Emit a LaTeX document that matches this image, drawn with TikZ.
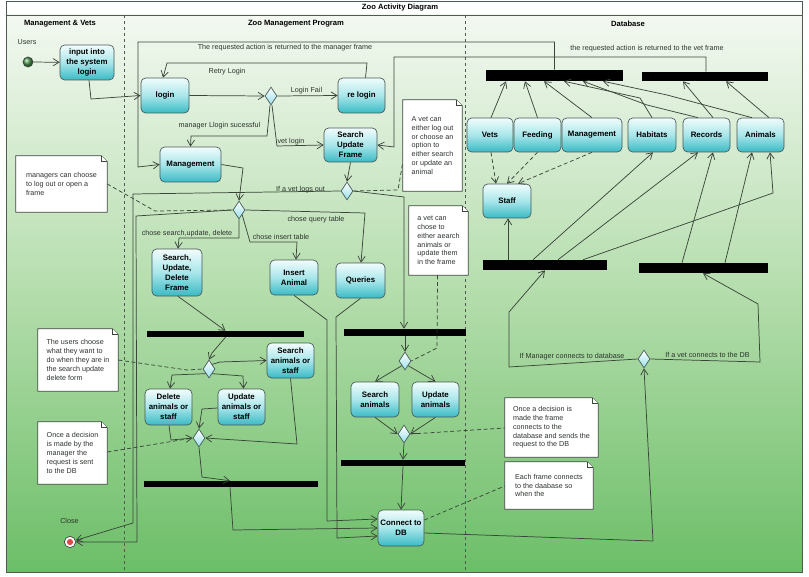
\documentclass[tikz,border=0pt]{standalone}
\usepackage{fontspec}
\setmainfont{Liberation Sans}
\usetikzlibrary{arrows.meta,shapes.geometric,calc}

\pgfdeclarelayer{back}
\pgfdeclarelayer{notes}
\pgfsetlayers{back,notes,main}

\definecolor{ink}{RGB}{58,70,58}
\definecolor{nodeedge}{RGB}{70,88,88}
\definecolor{nodetop}{RGB}{242,252,252}
\definecolor{nodemid}{RGB}{168,230,234}
\definecolor{nodebot}{RGB}{58,186,196}
\definecolor{decbot}{RGB}{150,224,234}
\definecolor{bgtop}{RGB}{243,248,241}
\definecolor{bgmid}{RGB}{180,221,172}
\definecolor{bgbot}{RGB}{108,190,104}
\definecolor{labelgrey}{RGB}{45,52,45}
\definecolor{framegrey}{RGB}{80,90,80}
\definecolor{initgreen}{RGB}{80,150,80}
\definecolor{finalred}{RGB}{222,72,72}

\newcommand{\lblfont}{\fontsize{5.4}{6.6}\selectfont}
\newcommand{\actfont}{\fontsize{5.9}{7.5}\selectfont\bfseries}

% UML note: white sheet with a folded top-right corner, drawn behind the text
\newcommand{\foldnote}[1]{%
  \begin{pgfonlayer}{notes}
    \filldraw[notesheet] (#1.north west) -- ($(#1.north east)+(-6,0)$) -- ($(#1.north east)+(0,6)$)
      -- (#1.south east) -- (#1.south west) -- cycle;
    \draw[notesheet] ($(#1.north east)+(-6,0)$) -- ($(#1.north east)+(-6,6)$) -- ($(#1.north east)+(0,6)$);
  \end{pgfonlayer}}

\begin{document}
\begin{tikzpicture}[x=0.75pt,y=-0.75pt,
  wh/.style 2 args={minimum width=#1*0.75pt, minimum height=#2*0.75pt},
  act/.style={rectangle, rounded corners=3.5pt, draw=nodeedge, line width=0.5pt,
    top color=nodetop, bottom color=nodebot, middle color=nodemid,
    font=\actfont, align=center, inner sep=0pt},
  bar/.style={rectangle, fill=black, draw=none, inner sep=0pt},
  decision/.style={diamond, draw=nodeedge, line width=0.5pt, top color=white, bottom color=decbot,
    inner sep=0pt, minimum width=9pt, minimum height=13.5pt},
  initialnode/.style={circle, draw=ink, line width=0.5pt, inner sep=0pt, minimum size=7.5pt,
    shading=ball, ball color=initgreen},
  finalnode/.style={circle, draw=ink, line width=0.5pt, fill=white, inner sep=0pt, minimum size=8.5pt,
    path picture={\fill[finalred] (path picture bounding box.center) circle (2.3pt);}},
  flow/.style={draw=ink, line width=0.55pt, -{Straight Barb[length=4.5pt,width=5.5pt]}},
  flowdash/.style={flow, dash pattern=on 3pt off 2pt},
  noteline/.style={draw=ink, line width=0.55pt, dash pattern=on 3pt off 2pt},
  lanedash/.style={draw=framegrey, line width=0.5pt, dash pattern=on 2.5pt off 2pt},
  lbl/.style={font=\lblfont, text=labelgrey, inner sep=0pt},
  notetext/.style={font=\lblfont, text=labelgrey, align=left, inner sep=0pt},
  notesheet/.style={fill=white, draw=ink, line width=0.5pt},
  heading/.style={font=\fontsize{5.7}{7}\selectfont\bfseries, inner sep=0pt}]

\useasboundingbox (0,0) rectangle (809,577);

% frame, gradient and swimlanes
\begin{pgfonlayer}{back}
  \fill[white] (0,0) rectangle (809,577);
  \shade[top color=bgtop, bottom color=bgbot, middle color=bgmid] (6,15) rectangle (802,572);
  \draw[framegrey, line width=0.6pt] (6,1) rectangle (802,572);
  \draw[framegrey, line width=0.6pt] (6,15) -- (802,15);
  \draw[lanedash] (124,15) -- (124,572);
  \draw[lanedash] (465,15) -- (465,572);
\end{pgfonlayer}

\node[heading] (title) at (400,8) {Zoo Activity Diagram};
\node[heading] (laneA) at (60,24) {Management \& Vets};
\node[heading] (laneB) at (296,24) {Zoo Management Program};
\node[heading] (laneC) at (628,24) {Database};

% actions
\node[act, wh={54}{35}] (input) at (87,62.5) {input into\\the system\\login};
\node[act, wh={48}{35}] (login) at (165,95.5) {login};
\node[act, wh={47}{35}] (relogin) at (361.5,95.5) {re login};
\node[act, wh={53}{34}] (suf) at (350.5,145) {Search\\Update\\Frame};
\node[act, wh={61}{35}] (mgmt) at (190.5,164.5) {Management};
\node[act, wh={50}{47}] (sud) at (177,272.5) {Search,\\Update,\\Delete\\Frame};
\node[act, wh={48}{35}] (insert) at (294,277.5) {Insert\\Animal};
\node[act, wh={49}{35}] (queries) at (360.5,280.5) {Queries};
\node[act, wh={47}{35}] (searchAS) at (290.5,360.5) {Search\\animals or\\staff};
\node[act, wh={47}{36}] (deleteAS) at (168.5,407) {Delete\\animals or\\staff};
\node[act, wh={47}{36}] (updateAS) at (241.5,407) {Update\\animals or\\staff};
\node[act, wh={48}{35}] (searchA) at (375,399.5) {Search\\animals};
\node[act, wh={47}{35}] (updateA) at (435.5,399.5) {Update\\animals};
\node[act, wh={46}{36}] (connect) at (401,528) {Connect to\\DB};
\node[act, wh={46}{34}] (vets) at (490,135) {Vets};
\node[act, wh={47}{34}] (feeding) at (537.5,135) {Feeding};
\node[act, wh={60}{34}] (dbmgmt) at (592,135) {Management};
\node[act, wh={48}{34}] (habitats) at (652,135) {Habitats};
\node[act, wh={47}{34}] (records) at (706.5,135) {Records};
\node[act, wh={47}{34}] (animals) at (760.5,135) {Animals};
\node[act, wh={48}{34}] (staff) at (507,201) {Staff};

% fork / join bars
\node[bar, wh={137}{11}] (barA) at (554.5,75.5) {};
\node[bar, wh={126}{9}] (barB) at (705,76.5) {};
\node[bar, wh={124}{10}] (barC) at (545,265) {};
\node[bar, wh={129}{10}] (barD) at (703.5,268) {};
\node[bar, wh={157}{6}] (bar1) at (225.5,334) {};
\node[bar, wh={174}{6}] (bar2) at (231,484) {};
\node[bar, wh={122}{7}] (bar3) at (405,332.5) {};
\node[bar, wh={124}{6}] (bar4) at (403,463) {};

% decisions
\node[decision] (d1) at (271,96) {};
\node[decision] (d2) at (347,191) {};
\node[decision] (d3) at (239,210) {};
\node[decision] (d4) at (209,369) {};
\node[decision] (d5) at (199,438) {};
\node[decision] (d6) at (405,361) {};
\node[decision] (d7) at (404,434) {};
\node[decision] (d8) at (644,359) {};

% start and end
\node[initialnode] (start) at (28,62) {};
\node[finalnode] (stop) at (70,542) {};
\node[lbl] (startlbl) at (27,42.5) {Users};
\node[lbl] (stoplbl) at (69.5,521) {Close};

% notes
\node[notetext, wh={91}{56}] (n1) at (61.5,184) {managers can choose\\to log out or open a\\frame};
\node[notetext, wh={59}{91}] (n2) at (432.5,145.5) {A vet can\\either log out\\or choose an\\option to\\either search\\or update an\\animal};
\node[notetext, wh={59}{69}] (n3) at (438.5,240.5) {a vet can\\chose to\\either aearch\\animals or\\update them\\in the frame};
\node[notetext, wh={80}{62}] (n4) at (78,360) {The users choose\\what they want to\\do when they are in\\the search update\\delete form};
\node[notetext, wh={69}{62}] (n5) at (72.5,453) {Once a decision\\is made by the\\manager the\\request is sent\\to the DB};
\node[notetext, wh={93}{59}] (n6) at (551.5,427.5) {Once a decision is\\made the frame\\connects to the\\database and sends the\\request to the DB};
\node[notetext, wh={88}{47}] (n7) at (549,485.5) {Each frame connects\\to the daabase so\\when the};
\foldnote{n1}\foldnote{n2}\foldnote{n3}\foldnote{n4}\foldnote{n5}\foldnote{n6}\foldnote{n7}

% login flow
\draw[flow] (start) -- (input);
\draw[flow] ($(input.south)+(2,0)$) -- (91,99) -- (login.west);
\draw[flow] (login.east) -- (d1.west);
\draw[flow] (d1.east) -- (relogin.west);
\draw[flow] ($(relogin.north)+(4,0)$) -- (367,63) -- (167,63) -- ($(login.north)+(-2,0)$);
\draw[flow] ($(d1.south)+(-1,0)$) -- (267,136) -- (191,136) -- (mgmt.north);
\draw[flow] ($(d1.south)+(1,0)$) -- (277,146) -- (suf.west);
\draw[flow] (suf.south) -- (d2.north);
\draw[flow] (mgmt.east) -- (243,168) -- (d3.north);

\node[lbl] (l1) at (285,48) {The requested action is returned to the manager frame};
\node[lbl] (l2) at (227,72) {Retry Login};
\node[lbl] (l3) at (306.5,90.5) {Login Fail};
\node[lbl] (l4) at (219.5,126) {manager Llogin sucessful};
\node[lbl] (l5) at (291,141.5) {vet login};
\node[lbl] (l6) at (300.5,189.5) {If a vet logs out};
\node[lbl] (l7) at (647,49) {the requested action is returned to the vet frame};
\node[lbl] (l8) at (187,234) {chose search,update, delete};
\node[lbl] (l9) at (281,236.5) {chose insert table};
\node[lbl] (l10) at (316,219.5) {chose query table};
\node[lbl] (l11) at (572,357) {If Manager connects to database};
\node[lbl] (l12) at (707.5,355) {If a vet connects to the DB};

% logging out
\draw[flow] (d2.west) -- (133,194) -- (133,523) -- (stop);
\draw[flow] (d3.west) -- (136,216) -- (137,542) -- (stop.east);

% vet branch
\draw[flow] (d2.east) -- (404,197) -- ($(bar3.north)+(-1,0)$);
\draw[noteline] (d2.east) -- (398,190) -- ($(n2.west)+(0,17)$);

% results returned from the database
\draw[flow] (barA.north) -- (554.5,42) -- (138,42) -- (138,167) -- (mgmt.west);
\draw[flow] ($(barB.north)+(1,0)$) -- (706,57) -- (394,57) -- (394,147) -- (suf.east);

% manager branch
\draw[flow] (d3.south) -- (239,238) -- (179,238) -- ($(sud.north)+(1,0)$);
\draw[flow] (d3.south east) -- (250,242) -- (297,242) -- ($(insert.north)+(2,0)$);
\draw[flow] (d3.east) -- (365,213) -- ($(queries.north)+(0.5,0)$);
\draw[noteline] (n1.east) -- (155,211) -- (d3.west);

\draw[flow] ($(sud.south)+(1,0)$) -- (bar1.north);
\draw[flow] (bar1.south) -- (212,353) -- (d4.north);
\draw[flow] (d4.south west) -- (172,375) -- ($(deleteAS.north)+(1.5,0)$);
\draw[flow] (d4.south east) -- (243,376) -- ($(updateAS.north)+(2,0)$);
\draw[flow] (d4.north east) -- (220,362) -- (searchAS.west);
\draw[noteline] (n4.east) -- (187,370) -- (d4.west);

\draw[flow] ($(deleteAS.south)+(0.5,0)$) -- (171,440) -- (d5.west);
\draw[flow] ($(updateAS.west)+(0,1)$) -- (202,409) -- (d5.north);
\draw[flow] (searchAS.south) -- (297,444) -- (d5.east);
\draw[noteline] ($(n5.east)+(0,-1)$) -- (d5.west);
\draw[flow] (d5.south) -- (202,477) -- ($(bar2.north)+(-1,0)$);
\draw[flow] ($(bar2.south)+(-1,0)$) -- (233,530) -- (connect.west);
\draw[flow] (insert.south) -- (327,320) -- (327,521) -- ($(connect.west)+(0,-9)$);
\draw[flow] (queries.south) -- (336,317) -- (337,538) -- ($(connect.west)+(0,8)$);

% vet search / update
\draw[flow] (bar3.south) -- (d6.north);
\draw[flow] (d6.south west) -- (searchA.north);
\draw[flow] (d6.south east) -- (updateA.north);
\draw[noteline] ($(n3.south)+(-1,0)$) -- (437,348) -- (d6.east);
\draw[flow] (searchA.south) -- (d7.west);
\draw[flow] (updateA.south) -- (d7.east);
\draw[noteline] (d7.east) -- ($(n6.west)+(0,0.5)$);
\draw[flow] (d7.south) -- (bar4.north);
\draw[flow] (bar4.south) -- (connect.north);
\draw[noteline] ($(connect.east)+(0,-8)$) -- ($(n7.west)+(0,0.5)$);

% database access
\draw[flow] ($(connect.east)+(0,5)$) -- (653,541) -- (d8.south);
\draw[flow] (d8.west) -- (509,367) -- (509,312) -- (barC.south);
\draw[flow] (d8.east) -- (760,362) -- (758,304) -- ($(barD.south)+(-0.5,0)$);
\draw[flow] ($(barC.north)+(-37,0)$) -- ($(staff.south)+(1,0)$);
\draw[flow] ($(barC.north)+(-12,0)$) -- ($(habitats.south)+(1,0)$);
\draw[flow] ($(barC.north)+(13,0)$) -- ($(records.south)+(-8.5,0)$);
\draw[flow] ($(barC.north)+(38,0)$) -- (773,193) -- ($(animals.south)+(9.5,0)$);
\draw[flow] ($(barD.north)+(-21.5,0)$) -- ($(records.south)+(6.5,0)$);
\draw[flow] ($(barD.north)+(21.5,0)$) -- ($(animals.south)+(-8.5,0)$);
\draw[flowdash] ($(vets.south)+(1,0)$) -- ($(staff.north)+(-11,0)$);
\draw[flowdash] (feeding.south) -- (staff.north);
\draw[flowdash] (dbmgmt.south) -- ($(staff.north)+(11,0)$);
\draw[flow] ($(vets.north)+(1,0)$) -- ($(barA.south)+(-48.5,0)$);
\draw[flow] (feeding.north) -- ($(barA.south)+(-29.5,0)$);
\draw[flow] (dbmgmt.north) -- ($(barA.south)+(-10.5,0)$);
\draw[flow] (habitats.north) -- (640,98) -- ($(barA.south)+(9.5,0)$);
\draw[flow] ($(records.north)+(-8.5,0)$) -- (647,105) -- ($(barA.south)+(28.5,0)$);
\draw[flow] ($(animals.north)+(-8.5,0)$) -- (667,95) -- ($(barA.south)+(48.5,0)$);
\draw[flow] ($(records.north)+(6.5,0)$) -- ($(barB.south)+(-22,0)$);
\draw[flow] ($(animals.north)+(8.5,0)$) -- ($(barB.south)+(21,0)$);

\end{tikzpicture}
\end{document}
